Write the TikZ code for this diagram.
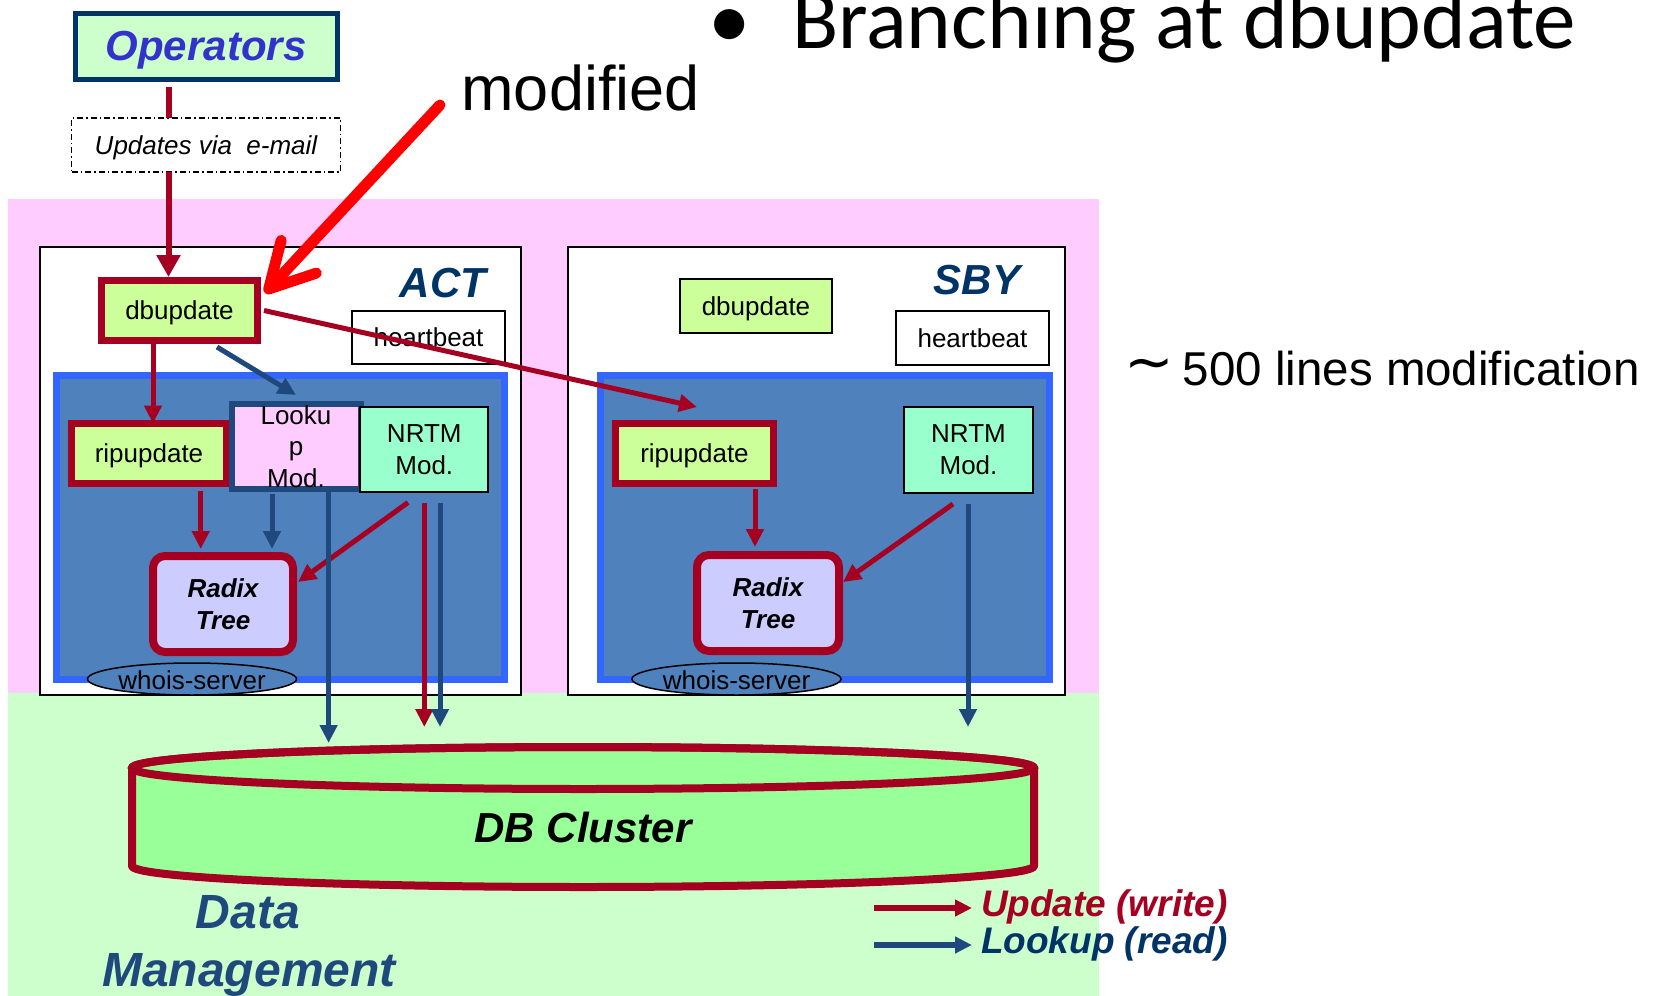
\documentclass[tikz,border=0pt]{standalone}
\usepackage{fontspec}
\usepackage{graphicx}
\setmainfont{Liberation Sans}
\newfontfamily\titlefont{Carlito}
\newfontfamily\symfont{DejaVu Sans}
\usetikzlibrary{arrows.meta,shapes.geometric}

\definecolor{wred}{HTML}{A50021}
\definecolor{wnavy}{HTML}{1F497D}
\definecolor{deepnavy}{HTML}{003366}
\definecolor{opblue}{HTML}{3333CC}
\definecolor{pinkbg}{HTML}{FFCCFF}
\definecolor{mintbg}{HTML}{CCFFCC}
\definecolor{limefill}{HTML}{CCFF99}
\definecolor{steel}{HTML}{4F81BD}
\definecolor{brightblue}{HTML}{3366FF}
\definecolor{aqua}{HTML}{99FFCC}
\definecolor{lavender}{HTML}{CCCCFF}
\definecolor{dbgreen}{HTML}{99FF99}
\definecolor{signalred}{HTML}{FF0000}

\newcommand\fsz[2]{\fontsize{#1}{#2}\selectfont}

\begin{document}
\begin{tikzpicture}[x=1pt,y=-1pt,
  every node/.style={inner sep=0pt,outer sep=0pt},
  txt/.style={font=\fsz{26}{31}, align=center},
  oneline/.style={text depth=0pt},
  plainbox/.style={txt, draw=black, line width=2pt},
  redbox/.style={txt, oneline, draw=wred, line width=7pt, fill=limefill},
  hostbox/.style={draw=black, line width=2pt, fill=white},
  corebox/.style={draw=brightblue, line width=7pt, fill=steel},
  nrtmbox/.style={plainbox, fill=aqua, font=\fsz{26}{32}},
  radixbox/.style={txt, draw=wred, line width=8pt, fill=lavender, rounded corners=12pt, font=\bfseries\itshape\fsz{26}{32}},
  serverpill/.style={ellipse, draw=black, line width=1.5pt, fill=steel, minimum width=209pt, minimum height=32pt, font=\fsz{26}{31}},
  sitelabel/.style={font=\bfseries\itshape\fsz{42}{50}, text=deepnavy},
  upd/.style={draw=wred, line width=5pt, -{Triangle[length=18pt,width=17pt]}},
  lkp/.style={draw=wnavy, line width=5pt, -{Triangle[length=18pt,width=17pt]}},
  keytext/.style={anchor=base west, font=\bfseries\itshape\fsz{37}{44}},
]
% canvas and the two zones
\fill[white] (0,0) rectangle (1658,996);
\useasboundingbox (0,0) rectangle (1658,996);
\fill[pinkbg] (8,199) rectangle (1099,693);
\fill[mintbg] (8,693) rectangle (1099,996);

% database cylinder
\filldraw[fill=dbgreen, draw=wred, line width=8pt, line join=round]
  (132,768) -- (132,866)
  arc[start angle=180, end angle=360, x radius=451pt, y radius=21pt]
  -- (1034,768)
  arc[start angle=0, end angle=180, x radius=451pt, y radius=21pt] -- cycle;
\draw[wred, line width=8pt] (583,768) ellipse[x radius=451pt, y radius=21pt];
\node[font=\bfseries\itshape\fsz{42}{50}] (db) at (583,827) {DB Cluster};

% operators and mail input
\node[oneline, draw=deepnavy, line width=5pt, fill=mintbg, minimum width=262pt, minimum height=66pt,
      font=\bfseries\itshape\fsz{42}{50}, text=opblue] (ops) at (206,46) {Operators};
\node[oneline, draw=black, line width=1.5pt, dash pattern=on 6pt off 3pt on 1.5pt off 3pt,
      minimum width=269pt, minimum height=54pt, font=\itshape\fsz{26}{31}] (email) at (206,145) {Updates via~~e-mail};

% hosts
\node[hostbox, minimum width=481pt, minimum height=448pt] (act) at (280.5,471) {};
\node[hostbox, minimum width=497pt, minimum height=448pt] (sby) at (816.5,471) {};
\node[corebox, minimum width=448pt, minimum height=304pt] (coreA) at (280.25,527.5) {};
\node[corebox, minimum width=449pt, minimum height=304pt] (coreB) at (825,527.5) {};
\node[sitelabel] (actlbl) at (443,283) {ACT};
\node[sitelabel] (sbylbl) at (977,280) {SBY};

% ACT modules
\node[redbox, minimum width=156pt, minimum height=60pt] (dbA) at (179.5,310.5) {dbupdate};
\node[plainbox, oneline, fill=white, minimum width=153pt, minimum height=53pt] (hbA) at (428.5,337.5) {heartbeat};
\node[redbox, minimum width=155pt, minimum height=60pt] (ripA) at (149,453.5) {ripupdate};
\node[txt, draw=wnavy, line width=6pt, fill=pinkbg, minimum width=129pt, minimum height=85pt,
      font=\fsz{26}{31.5}] (lk) at (296,446.5) {Looku\\p\\Mod.};
\node[nrtmbox, minimum width=128pt, minimum height=85pt] (nrA) at (424.3,449.3) {NRTM\\Mod.};
\node[radixbox, minimum width=140pt, minimum height=96pt] (radA) at (223,604) {Radix\\Tree};
\node[serverpill] (whA) at (192,679) {\makebox[0pt]{\raisebox{-10pt}[0pt][0pt]{whois-server}}};

% SBY modules
\node[plainbox, oneline, fill=limefill, minimum width=152pt, minimum height=54pt] (dbB) at (756,306) {dbupdate};
\node[plainbox, oneline, fill=white, minimum width=153pt, minimum height=54pt] (hbB) at (972.5,338) {heartbeat};
\node[redbox, minimum width=158pt, minimum height=60pt] (ripB) at (694.5,453.5) {ripupdate};
\node[nrtmbox, minimum width=129pt, minimum height=86pt] (nrB) at (968.5,450) {NRTM\\Mod.};
\node[radixbox, minimum width=142pt, minimum height=96pt] (radB) at (768,603) {Radix\\Tree};
\node[serverpill] (whB) at (736.5,679) {\makebox[0pt]{\raisebox{-10pt}[0pt][0pt]{whois-server}}};

% drop points above the database
\coordinate (dropLk) at (328.6,743);
\coordinate (dropNrW) at (424.3,727);
\coordinate (dropNrR) at (440,727);
\coordinate (dropSby) at (968,727);

% mail flow
\draw[wred, line width=6pt, shorten <=8pt] ([xshift=-37.5pt]ops.south) -- ([xshift=-37.5pt]email.north);
\draw[wred, line width=6pt, shorten >=3.5pt, -{Triangle[length=22pt,width=23pt]}]
  ([xshift=-37.5pt]email.south) -- ([xshift=-11pt]dbA.north);

% ACT flows
\draw[upd] ([xshift=-26.5pt]dbA.south) -- ([xshift=4pt]ripA.north);
\draw[lkp] ([xshift=37.5pt,yshift=-6.5pt]dbA.south) -- ([yshift=9pt]lk.north);
\draw[upd] ([xshift=51.7pt,yshift=-7.5pt]ripA.south) -- ([xshift=-22.3pt,yshift=7pt]radA.north);
\draw[lkp] ([xshift=-24pt,yshift=-5pt]lk.south) -- ([xshift=49pt,yshift=7pt]radA.north);
\draw[upd] ([xshift=-16.3pt,yshift=-10.7pt]nrA.south) -- ([xshift=5pt,yshift=22pt]radA.east);
\draw[lkp] ([xshift=32.6pt]lk.south) -- (dropLk);
\draw[upd] ([yshift=-11pt]nrA.south) -- (dropNrW);
\draw[lkp] ([xshift=15.7pt,yshift=-11pt]nrA.south) -- (dropNrR);

% branch to the standby
\draw[upd] ([xshift=6.5pt]dbA.east) -- ([xshift=2.5pt,yshift=16.5pt]ripB.north);

% SBY flows
\draw[upd] ([xshift=60.5pt,yshift=-5.5pt]ripB.south) -- ([xshift=-13pt,yshift=8pt]radB.north);
\draw[upd] ([xshift=-15.5pt,yshift=-11pt]nrB.south) -- ([xshift=4pt,yshift=21pt]radB.east);
\draw[lkp] ([xshift=-0.5pt,yshift=-11pt]nrB.south) -- (dropSby);

% zone caption
\node[anchor=base, font=\bfseries\itshape\fsz{48}{58}, text=wnavy] (dmA) at (248,928) {Data};
\node[anchor=base, font=\bfseries\itshape\fsz{48}{58}, text=wnavy] (dmB) at (249,986) {Management};

% key
\node[keytext, text=wred] (keyW) at (981,916) {Update (write)};
\node[keytext, text=deepnavy] (keyR) at (981,953) {Lookup (read)};
\coordinate (keyWtail) at (874,908);
\coordinate (keyWhead) at (972,908);
\coordinate (keyRtail) at (874,945);
\coordinate (keyRhead) at (972,945);
\draw[upd, line width=6pt, -{Triangle[length=17pt,width=16pt]}] (keyWtail) -- (keyWhead);
\draw[lkp, line width=6pt, -{Triangle[length=17pt,width=16pt]}] (keyRtail) -- (keyRhead);

% headline and notes
\node[anchor=base, font=\titlefont\fsz{85}{100}] (bullet) at (730,48) {•};
\node[anchor=base west, font=\titlefont\fsz{85}{100}] (title) at (792,48) {Branching at dbupdate};
\node[anchor=base west, font=\fsz{63}{70}] (modlbl) at (461.5,110) {modified};
\node[anchor=base west, font=\fsz{47.5}{56}] (locnote) at (1124,385)
  {\raisebox{4pt}{\scalebox{1.25}[1.2]{\symfont ∼}}\hspace{9pt}500 lines modification};

% callout pointing at the modified daemon
\coordinate (calloutTail) at (440,105);
\draw[signalred, line width=11pt, line cap=round, -{Straight Barb[length=44pt,width=48pt,round]}]
  (calloutTail) -- ([xshift=7.5pt,yshift=-12.5pt]dbA.north east);
\end{tikzpicture}
\end{document}
